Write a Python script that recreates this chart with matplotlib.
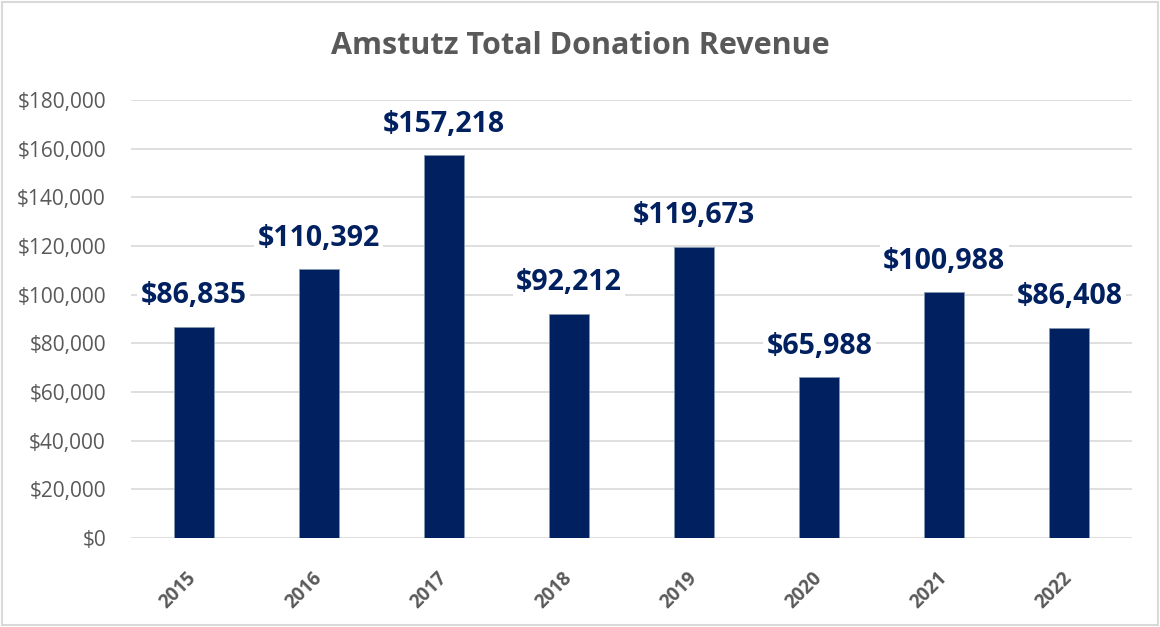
import matplotlib.pyplot as plt
from matplotlib.patches import Rectangle
from matplotlib.ticker import FuncFormatter
from matplotlib.transforms import ScaledTranslation

years = ["2015", "2016", "2017", "2018", "2019", "2020", "2021", "2022"]
revenue = [86835, 110392, 157218, 92212, 119673, 65988, 100988, 86408]

NAVY = "#002060"
GREY = "#595959"

plt.rcParams["font.family"] = ["Open Sans", "DejaVu Sans"]

fig = plt.figure(figsize=(11.6, 6.27), dpi=100)
ax = fig.add_axes([131 / 1160, 1 - 538 / 627, 1001 / 1160, 438 / 627])

x = range(len(years))
ax.bar(x, revenue, width=0.32, color=NAVY, edgecolor="#8497b0", linewidth=0.6, zorder=3)

for xi, v in zip(x, revenue):
    ax.annotate(f"${v:,.0f}", (xi, v), xytext=(0, 31), textcoords="offset pixels",
                ha="center", va="center", fontsize=20.5, fontweight="bold", color=NAVY,
                bbox=dict(boxstyle="square,pad=0.12", fc="white", ec="none"), zorder=4)

ax.set_xlim(-0.5, len(years) - 0.5)
ax.set_ylim(0, 180000)
ax.set_yticks(range(0, 180001, 20000))
ax.yaxis.set_major_formatter(FuncFormatter(lambda v, p: f"${v:,.0f}"))
ax.set_xticks(list(x))
ax.set_xticklabels(years, rotation=45, ha="right", va="center", rotation_mode="anchor",
                   fontsize=13.5, fontweight="bold", color=GREY)
shift = ScaledTranslation(0.07, 0, fig.dpi_scale_trans)
for lab in ax.get_xticklabels():
    lab.set_transform(lab.get_transform() + shift)
ax.tick_params(axis="y", labelsize=15, colors=GREY, length=0, pad=18)
ax.tick_params(axis="x", length=0, pad=27)
ax.grid(axis="y", color="#d9d9d9", linewidth=1.2, zorder=0)
for s in ax.spines.values():
    s.set_visible(False)

fig.text(0.5, 1 - 46 / 627, "Amstutz Total Donation Revenue", ha="center", va="center",
         fontsize=22, fontweight="bold", color=GREY)

fig.patches.append(Rectangle((0.002, 0.003), 0.996, 0.994, transform=fig.transFigure,
                             fill=False, ec="#d9d9d9", lw=1.5))

fig.savefig("out.png", dpi=100)
